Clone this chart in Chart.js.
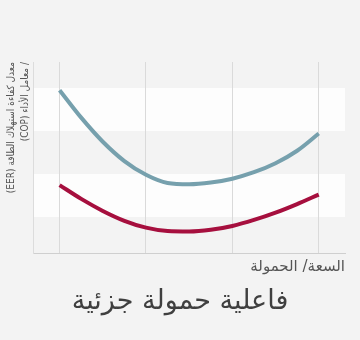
<!DOCTYPE html>
<html lang="ar" dir="rtl">
<head>
<meta charset="utf-8">
<script src="https://cdn.jsdelivr.net/npm/chart.js@4/dist/chart.umd.min.js"></script>
<style>
html,body{margin:0;padding:0;background:#f3f3f3;overflow:hidden}
canvas{display:block}
</style>
</head>
<body>
<canvas id="c" width="360" height="340"></canvas>
<script>
// Load positions (x) and efficiency curves
const loadX = [0, 0.25, 0.5, 0.75, 1, 1.25, 1.5, 1.75, 2, 2.25, 2.5, 2.75, 3];
const blueSeries = [3.95, 3.31, 2.75, 2.30, 1.98, 1.79, 1.76, 1.80, 1.89, 2.04, 2.25, 2.54, 2.94];
const redSeries  = [1.74, 1.42, 1.14, 0.91, 0.75, 0.67, 0.66, 0.70, 0.79, 0.93, 1.10, 1.30, 1.52];
const xGridTicks = [0, 1, 2, 3];
const yBandEdges = [1, 2, 3, 4];
const yTitle = ['معدل كفاءة استهلاك الطاقة (EER)', '/ معامل الأداء (COP)'];
const xTitle = 'السعة/ الحمولة';
const chartTitle = 'فاعلية حمولة جزئية';

const toPts = (arr) => arr.map((v, i) => ({x: loadX[i], y: v}));

const bandPlugin = {
  id: 'bands',
  beforeDraw(chart) {
    const {ctx, chartArea, scales} = chart;
    const y = scales.y;
    ctx.save();
    ctx.fillStyle = '#fdfdfd';
    for (let i = 0; i + 1 < yBandEdges.length; i += 2) {
      const y1 = y.getPixelForValue(yBandEdges[i]);
      const y2 = y.getPixelForValue(yBandEdges[i + 1]);
      ctx.fillRect(chartArea.left, Math.min(y1, y2), chartArea.right - chartArea.left, Math.abs(y1 - y2));
    }
    ctx.restore();
  }
};

new Chart(document.getElementById('c'), {
  type: 'line',
  data: {
    datasets: [
      {data: toPts(blueSeries), borderColor: '#76a0ad', borderWidth: 4, cubicInterpolationMode: 'monotone', pointRadius: 0, fill: false},
      {data: toPts(redSeries), borderColor: '#a60f3e', borderWidth: 4, cubicInterpolationMode: 'monotone', pointRadius: 0, fill: false}
    ]
  },
  options: {
    responsive: false,
    animation: false,
    devicePixelRatio: 1,
    layout: {padding: {top: 62, right: 0, left: 0, bottom: 0}},
    plugins: {
      legend: {display: false},
      tooltip: {enabled: false},
      title: {
        display: true,
        position: 'bottom',
        text: chartTitle,
        color: '#3f3f3f',
        font: {family: 'DejaVu Sans', size: 27, weight: 'normal', lineHeight: 1.2},
        padding: {top: 6, bottom: 21.4}
      }
    },
    scales: {
      x: {
        type: 'linear',
        min: -0.308,
        max: 3.304,
        afterBuildTicks: (s) => { s.ticks = xGridTicks.map(v => ({value: v})); },
        afterFit: (s) => { s.height = 27; },
        ticks: {display: false},
        grid: {color: '#dadada', lineWidth: 1, drawTicks: false},
        border: {display: true, color: '#cfcfcf', width: 1},
        title: {
          display: true,
          text: xTitle,
          align: 'end',
          color: '#555',
          font: {family: 'DejaVu Sans', size: 15, lineHeight: 1.2},
          padding: {top: 0, bottom: 4.5}
        }
      },
      y: {
        type: 'linear',
        min: 0.156,
        max: 4.605,
        afterFit: (s) => { s.width = 33; },
        ticks: {display: false},
        grid: {display: false},
        border: {display: true, color: '#dcdcdc', width: 1},
        title: {
          display: true,
          text: yTitle,
          align: 'end',
          color: '#555',
          font: {family: "'DejaVu Sans Condensed', 'DejaVu Sans'", size: 10, lineHeight: 1.4},
          padding: {top: 4, bottom: 0}
        }
      },
      yRight: {
        type: 'linear',
        position: 'right',
        min: 0,
        max: 1,
        afterFit: (s) => { s.width = 15; },
        ticks: {display: false},
        grid: {display: false, drawOnChartArea: false},
        border: {display: false}
      }
    }
  },
  plugins: [bandPlugin]
});
</script>
</body>
</html>
